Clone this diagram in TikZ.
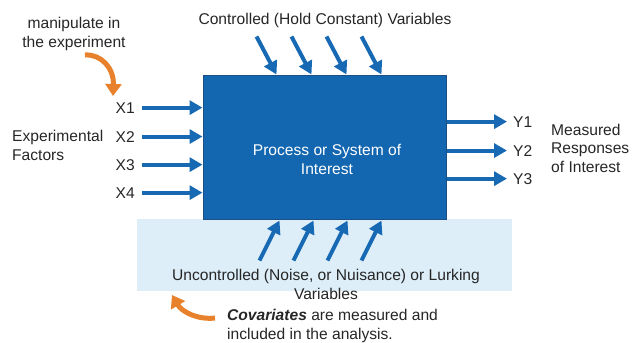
\documentclass[tikz,border=0pt]{standalone}
\usepackage{fontspec}
\setmainfont{Liberation Sans}
\usetikzlibrary{arrows.meta}
\definecolor{boxblue}{HTML}{1366B0}
\definecolor{boxedge}{HTML}{1B4F86}
\definecolor{arrowblue}{HTML}{1869B3}
\definecolor{bandblue}{HTML}{DDEEF8}
\definecolor{hintorange}{HTML}{E8812B}
\begin{document}
\begin{tikzpicture}
[x=1pt, y=-1pt,
 lbl/.style={inner sep=0pt, font=\fontsize{15.6}{18.5}\selectfont, text=black!85},
 box/.style={draw=boxedge, line width=1pt, fill=boxblue, minimum width=243pt, minimum height=144pt, inner sep=0pt},
 band/.style={fill=bandblue, minimum width=375pt, minimum height=72pt, inner sep=0pt},
 flow/.style={draw=arrowblue, line width=4pt, -{Triangle[length=13pt, width=14pt]}},
 hint/.style={draw=hintorange, line width=5pt, -{Triangle[length=12pt, width=16pt]}}]
\useasboundingbox (0,0) rectangle (641,343);
\node [band] (band) at (324.5,255) {};
\node [box] (proc) at (324.5,147) {};
\node [lbl, anchor=base, align=center, text=white] (proctext) at (327,174) {Process or System of\\Interest};
% inputs
\node [lbl, anchor=base] (ctrl) at (325,24) {Controlled (Hold Constant) Variables};
\node [lbl, anchor=base, align=center] (manip) at (74,47) {manipulate in\\the experiment};
\node [lbl, anchor=base west, align=left] (factors) at (12,160) {Experimental\\Factors};
\foreach \i/\y in {1/113,2/142,3/170,4/198}
  {\node [lbl, anchor=base east] (x\i) at (135,\y) {X\i};
   \draw [flow, shorten <=7pt] (x\i.east) -- (x\i.east -| proc.west);}
% outputs
\foreach \i/\y in {1/127,2/156,3/184}
  {\node [lbl, anchor=base west] (y\i) at (513,\y) {Y\i};
   \draw [flow, shorten >=6pt] (y\i.west -| proc.east) -- (y\i.west);}
\node [lbl, anchor=base west, align=left] (resp) at (551,172) {Measured\\Responses\\of Interest};
% controlled and uncontrolled variables
\foreach \i/\x in {1/74,2/109,3/144,4/179}
  {\path (proc.north west) ++(\x,0) coordinate (ct\i) ++(-20,-38) coordinate (cs\i);
   \draw [flow] (cs\i) -- (ct\i);}
\foreach \i/\x in {1/77,2/111,3/145,4/179}
  {\path (proc.south west) ++(\x,1) coordinate (ut\i) ++(-20,40) coordinate (us\i);
   \draw [flow] (us\i) -- (ut\i);}
\node [lbl, anchor=base, align=center] (noise) at (326,299) {Uncontrolled (Noise, or Nuisance) or Lurking\\Variables};
\node [lbl, anchor=base west, align=left] (covar) at (227,339) {\textbf{\textit{Covariates}} are measured and\\included in the analysis.};
% hints
\coordinate (m0) at (85,55);
\coordinate (m1) at (113,96);
\draw [hint] (m0) .. controls (101,54) and (114,68) .. (m1);
\coordinate (c0) at (215,318);
\coordinate (c1) at (172,295);
\draw [hint] (c0) .. controls (198,320) and (182,312) .. (c1);
\end{tikzpicture}
\end{document}
